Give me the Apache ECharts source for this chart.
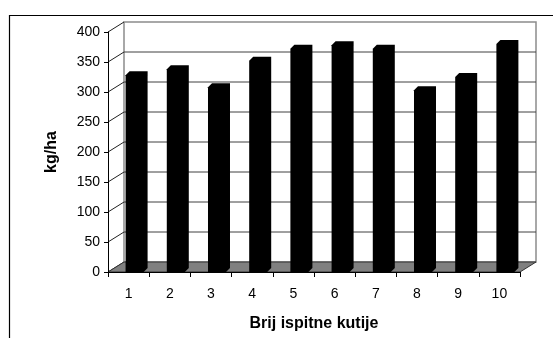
<!DOCTYPE html>
<html>
<head>
<meta charset="utf-8">
<script src="https://cdn.jsdelivr.net/npm/echarts@6/dist/echarts.min.js"></script>
<style>
  html, body { margin: 0; padding: 0; background: #fff; }
  #chart { width: 553px; height: 338px; }
</style>
</head>
<body>
<div id="chart"></div>
<script>
const CATEGORIES = ['1', '2', '3', '4', '5', '6', '7', '8', '9', '10'];
const VALUES = [328, 338, 308, 352, 372, 378, 372, 303, 325, 380];
const Y_TICKS = [0, 50, 100, 150, 200, 250, 300, 350, 400];

// 3D look: depth offset of the back wall and of each bar
const DEPTH_X = 16;
const DEPTH_Y = 10;
const BAR_DEPTH = 4;
const FONT = '"Liberation Sans", Arial, sans-serif';

const chart = echarts.init(document.getElementById('chart'), null, { renderer: 'canvas' });

function renderFrame(params, api) {
  const cs = params.coordSys;
  const x0 = cs.x;
  const x1 = cs.x + cs.width;
  const yb = api.coord([0, 0])[1];
  const yt = api.coord([0, Y_TICKS[Y_TICKS.length - 1]])[1];
  const children = [];
  // back wall
  children.push({
    type: 'rect',
    shape: { x: x0 + DEPTH_X, y: yt - DEPTH_Y, width: cs.width, height: yb - yt },
    style: { fill: '#fff', stroke: '#8c8c8c', lineWidth: 1.5 },
  });
  Y_TICKS.forEach((t) => {
    const y = api.coord([0, t])[1];
    if (t > 0 && t < Y_TICKS[Y_TICKS.length - 1]) {
      children.push({
        type: 'line',
        shape: { x1: x0 + DEPTH_X, y1: y - DEPTH_Y, x2: x1 + DEPTH_X, y2: y - DEPTH_Y },
        style: { stroke: '#404040', lineWidth: 1 },
      });
    }
    children.push({
      type: 'line',
      shape: { x1: x0, y1: y, x2: x0 + DEPTH_X, y2: y - DEPTH_Y },
      style: { stroke: '#202020', lineWidth: 1 },
    });
  });
  // floor
  children.push({
    type: 'polygon',
    shape: { points: [[x0, yb], [x0 + DEPTH_X, yb - DEPTH_Y], [x1 + DEPTH_X, yb - DEPTH_Y], [x1, yb]] },
    style: { fill: '#808080', stroke: '#333', lineWidth: 1 },
  });
  return { type: 'group', children };
}

function renderBar(params, api) {
  const idx = api.value(0);
  const top = api.coord([idx, api.value(1)]);
  const bottom = api.coord([idx, 0]);
  const bw = api.size([1, 0])[0];
  const l = top[0] - bw * 0.073;
  const r = l + bw * 0.437;
  const d = BAR_DEPTH;
  return {
    type: 'polygon',
    shape: {
      points: [
        [l, bottom[1]], [l, top[1]], [l + d, top[1] - d],
        [r + d, top[1] - d], [r + d, bottom[1] - d], [r, bottom[1]],
      ],
    },
    style: { fill: '#000' },
  };
}

chart.setOption({
  animation: false,
  backgroundColor: '#fff',
  graphic: [
    {
      type: 'rect',
      shape: { x: 9.5, y: 15.5, width: 700, height: 500 },
      style: { fill: 'none', stroke: '#000', lineWidth: 1.2 },
      z: 0,
    },
  ],
  grid: { left: 108, right: 33, top: 32, bottom: 66 },
  xAxis: {
    type: 'category',
    data: CATEGORIES,
    boundaryGap: true,
    name: 'Brij ispitne kutije',
    nameLocation: 'middle',
    nameGap: 44,
    nameTextStyle: { color: '#000', fontSize: 16, fontWeight: 'bold', fontFamily: FONT },
    axisLine: { show: true, lineStyle: { color: '#000', width: 1 } },
    axisTick: { show: true, alignWithLabel: false, length: 5, lineStyle: { color: '#000' } },
    axisLabel: { color: '#000', fontSize: 14, fontFamily: FONT, margin: 15 },
    splitLine: { show: false },
    z: 5,
  },
  yAxis: {
    type: 'value',
    min: 0,
    max: 400,
    interval: 50,
    name: 'kg/ha',
    nameLocation: 'middle',
    nameGap: 48,
    nameRotate: 90,
    nameTextStyle: { color: '#000', fontSize: 16, fontWeight: 'bold', fontFamily: FONT },
    axisLine: { show: true, lineStyle: { color: '#000', width: 1 } },
    axisTick: { show: true, length: 4, lineStyle: { color: '#000' } },
    axisLabel: { color: '#000', fontSize: 14, fontFamily: FONT, margin: 8 },
    splitLine: { show: false },
    z: 5,
  },
  series: [
    {
      type: 'custom',
      name: 'frame',
      renderItem: renderFrame,
      data: [[0, 0]],
      silent: true,
      z: 1,
    },
    {
      type: 'custom',
      name: 'kg/ha',
      renderItem: renderBar,
      encode: { x: 0, y: 1 },
      data: VALUES.map((v, i) => [i, v]),
      z: 3,
    },
  ],
});
</script>
</body>
</html>
